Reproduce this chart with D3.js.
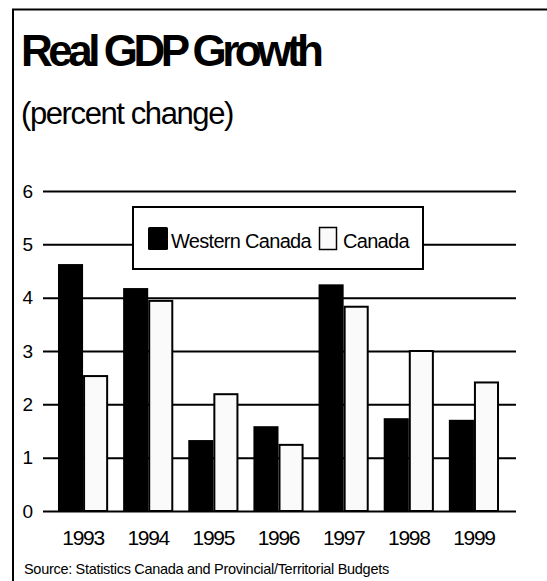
<!DOCTYPE html>
<html>
<head>
<meta charset="utf-8">
<script src="https://cdn.jsdelivr.net/npm/d3@7"></script>
<style>
  html, body { margin: 0; padding: 0; background: #ffffff; }
  svg { display: block; font-family: "Liberation Sans", Arial, sans-serif; }
</style>
</head>
<body>
<svg id="chart" width="547" height="581"></svg>
<script>
// Real GDP growth, percent change by year
const years = ["1993", "1994", "1995", "1996", "1997", "1998", "1999"];
const seriesNames = ["Western Canada", "Canada"];
const westernCanada = [4.63, 4.18, 1.33, 1.59, 4.25, 1.74, 1.71];
const canada = [2.53, 3.94, 2.19, 1.24, 3.83, 3.0, 2.41];
const yTicks = [0, 1, 2, 3, 4, 5, 6];
const seriesFill = ["#000000", "#fafafa"];

const svg = d3.select("#chart");

// outer frame (top and left edges)
svg.append("path")
  .attr("d", "M13,581 V9.5 H547")
  .attr("fill", "none")
  .attr("stroke", "#000")
  .attr("stroke-width", 2);

svg.append("text")
  .attr("x", 21).attr("y", 66)
  .attr("font-size", 44).attr("font-weight", "bold")
  .attr("letter-spacing", -4.5)
  .text("Real GDP Growth");

svg.append("text")
  .attr("x", 21).attr("y", 124)
  .attr("font-size", 31)
  .attr("letter-spacing", -1.4)
  .text("(percent change)");

const x = d3.scaleBand().domain(years).range([43, 514]).padding(0.23);
const xs = d3.scaleBand().domain(seriesNames).range([0, x.bandwidth()]);
const y = d3.scaleLinear().domain([0, 6]).range([511, 191]);

// horizontal grid with value labels
const yAxis = svg.append("g")
  .attr("transform", "translate(43,0)")
  .call(d3.axisLeft(y).tickValues(yTicks).tickSize(-473).tickPadding(10).tickFormat(d3.format("d")));
yAxis.select(".domain").remove();
yAxis.selectAll(".tick line").attr("stroke", "#000").attr("stroke-width", 2);
yAxis.selectAll(".tick text")
  .attr("font-size", 19).attr("fill", "#000")
  .attr("font-family", "Liberation Sans, Arial, sans-serif");

// legend box
const legend = svg.append("g");
legend.append("rect")
  .attr("x", 133).attr("y", 207).attr("width", 290).attr("height", 62)
  .attr("fill", "#fff").attr("stroke", "#000").attr("stroke-width", 2);
legend.append("rect")
  .attr("x", 148).attr("y", 227).attr("width", 20).attr("height", 23).attr("rx", 1.5)
  .attr("fill", seriesFill[0]);
legend.append("text")
  .attr("x", 171).attr("y", 248).attr("font-size", 20).attr("letter-spacing", -0.7)
  .text(seriesNames[0]);
legend.append("rect")
  .attr("x", 319.5).attr("y", 227.5).attr("width", 17).attr("height", 22)
  .attr("fill", seriesFill[1]).attr("stroke", "#000").attr("stroke-width", 1.5);
legend.append("text")
  .attr("x", 343).attr("y", 248).attr("font-size", 20).attr("letter-spacing", -0.7)
  .text(seriesNames[1]);

// bars
const rows = years.map((yr, i) => ({ year: yr, values: [westernCanada[i], canada[i]] }));
const groups = svg.append("g").selectAll("g")
  .data(rows).join("g")
  .attr("transform", d => `translate(${x(d.year)},0)`);

groups.selectAll("rect")
  .data(d => d.values.map((v, k) => ({ key: seriesNames[k], value: v, k })))
  .join("rect")
  .attr("x", d => xs(d.key) + (d.k === 1 ? 1 : 0))
  .attr("y", d => y(d.value))
  .attr("width", d => xs.bandwidth() - (d.k === 1 ? 2 : 0))
  .attr("height", d => y(0) - y(d.value))
  .attr("fill", d => seriesFill[d.k])
  .attr("stroke", d => d.k === 1 ? "#000" : "none")
  .attr("stroke-width", 2);

// year labels
svg.append("g").selectAll("text")
  .data(years).join("text")
  .attr("x", d => x(d) + x.bandwidth() / 2)
  .attr("y", 545)
  .attr("text-anchor", "middle")
  .attr("font-size", 21)
  .attr("letter-spacing", -1.3)
  .text(d => d);

svg.append("text")
  .attr("x", 24).attr("y", 574)
  .attr("font-size", 14.5)
  .attr("letter-spacing", -0.3)
  .text("Source: Statistics Canada and Provincial/Territorial Budgets");
</script>
</body>
</html>
